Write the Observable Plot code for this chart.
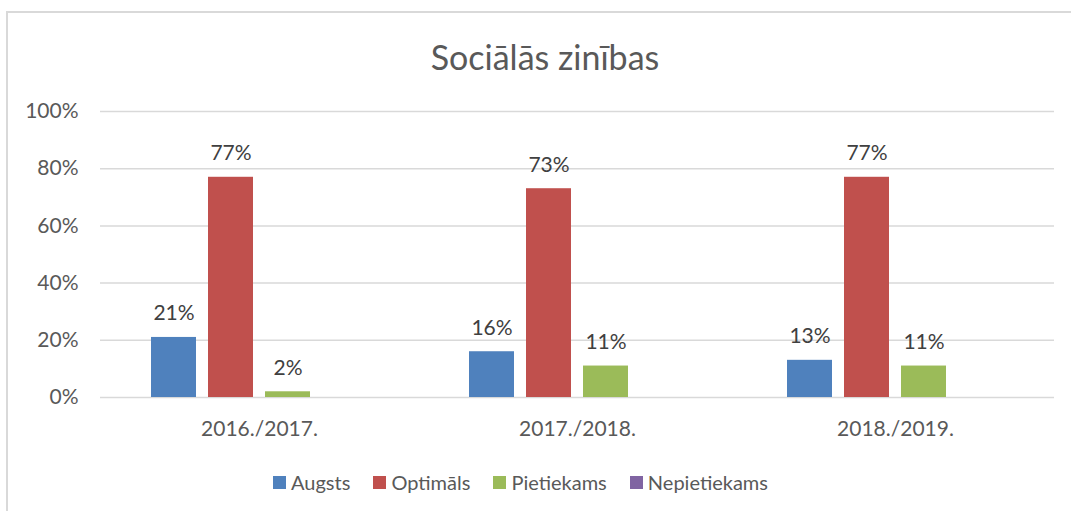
<!DOCTYPE html>
<html>
<head>
<meta charset="utf-8">
<script src="https://cdn.jsdelivr.net/npm/d3@7"></script>
<script src="https://cdn.jsdelivr.net/npm/@observablehq/plot@0.6"></script>
<style>
  html, body { margin: 0; padding: 0; background: #fff; }
  #wrap { position: relative; width: 1071px; height: 511px; overflow: hidden; font-family: Lato, "Open Sans", sans-serif; }
  #frame { position: absolute; left: 6px; top: 11px; width: 1200px; height: 600px; border-left: 2px solid #d9d9d9; border-top: 2px solid #d9d9d9; }
  #title { position: absolute; left: 0; top: 36px; width: 1090px; text-align: center; font-size: 34px; color: #595959; }
  #legend { position: absolute; left: 273px; top: 470px; width: 495px; display: flex; justify-content: space-between; font-size: 20px; color: #595959; }
  #legend span.item { display: inline-flex; align-items: center; }
  #legend span.sw { display: inline-block; width: 13px; height: 13px; margin-right: 5px; }
  #chart { position: absolute; left: 0; top: 0; }
</style>
</head>
<body>
<div id="wrap">
  <div id="frame"></div>
  <div id="chart"></div>
  <div id="title"></div>
  <div id="legend"></div>
</div>
<script>
const title = "Sociālās zinības";
const years = ["2016./2017.", "2017./2018.", "2018./2019."];
const series = ["Augsts", "Optimāls", "Pietiekams", "Nepietiekams"];
const colors = ["#4F81BD", "#C0504D", "#9BBB59", "#8064A2"];
const augsts = [21, 16, 13];
const optimals = [77, 73, 77];
const pietiekams = [2, 11, 11];
const nepietiekams = [0, 0, 0];
const yTicks = [0, 20, 40, 60, 80, 100];

const valuesBySeries = [augsts, optimals, pietiekams, nepietiekams];
const data = [];
years.forEach((yr, i) => {
  series.forEach((s, j) => {
    data.push({year: yr, series: s, value: valuesBySeries[j][i]});
  });
});

document.getElementById("title").textContent = title;
const legend = document.getElementById("legend");
series.forEach((s, j) => {
  const it = document.createElement("span");
  it.className = "item";
  const sw = document.createElement("span");
  sw.className = "sw";
  sw.style.background = colors[j];
  it.appendChild(sw);
  it.appendChild(document.createTextNode(s));
  legend.appendChild(it);
});

const chart = Plot.plot({
  width: 1071,
  height: 511,
  marginTop: 111,
  marginBottom: 114,
  marginLeft: 100,
  marginRight: 17,
  style: {fontFamily: "Lato, 'Open Sans', sans-serif", fontSize: "21px", color: "#595959", background: "transparent"},
  fx: {domain: years, padding: 0, label: null},
  x: {domain: series, paddingInner: 0.21, paddingOuter: 0.85, axis: null},
  y: {domain: [0, 100], label: null},
  color: {domain: series, range: colors},
  marks: [
    Plot.ruleY(yTicks, {stroke: "#d9d9d9", strokeWidth: 1.5}),
    Plot.axisY({ticks: yTicks, tickFormat: d => d + "%", tickSize: 0, tickPadding: 22, label: null, fontSize: 21}),
    Plot.axisFx({anchor: "bottom", tickSize: 0, tickPadding: 24, label: null, fontSize: 21}),
    Plot.barY(data, {fx: "year", x: "series", y: "value", fill: "series"}),
    Plot.text(data.filter(d => d.value > 0), {fx: "year", x: "series", y: "value", text: d => d.value + "%", lineAnchor: "bottom", dy: -17, fill: "#404040", fontSize: 21})
  ]
});
document.getElementById("chart").appendChild(chart);
</script>
</body>
</html>
